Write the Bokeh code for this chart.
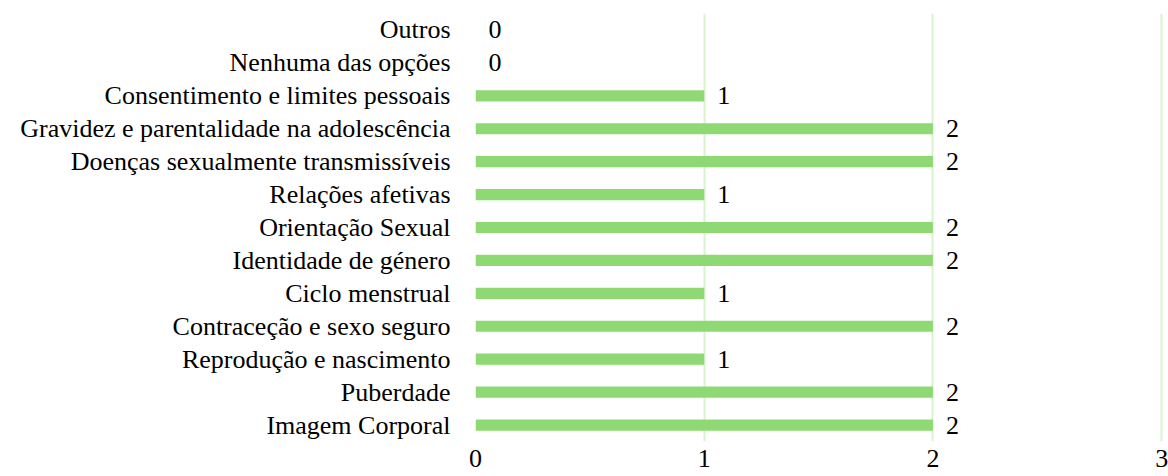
from bokeh.plotting import figure
from bokeh.models import Range1d, FactorRange, FixedTicker, ColumnDataSource
from bokeh.core.properties import value
from bokeh.embed import file_html
from bokeh.resources import INLINE

categories = [
    "Imagem Corporal",
    "Puberdade",
    "Reprodução e nascimento",
    "Contraceção e sexo seguro",
    "Ciclo menstrual",
    "Identidade de género",
    "Orientação Sexual",
    "Relações afetivas",
    "Doenças sexualmente transmissíveis",
    "Gravidez e parentalidade na adolescência",
    "Consentimento e limites pessoais",
    "Nenhuma das opções",
    "Outros",
]
counts = [2, 2, 1, 2, 1, 2, 2, 1, 2, 2, 1, 0, 0]
x_ticks = [0, 1, 2, 3]

FONT = "Liberation Serif"
FS = "26px"
BAR = "#8ed973"
GRID = "#d9f2d0"

src = ColumnDataSource(dict(cat=categories, val=counts, lbl=[str(v) for v in counts]))

p = figure(
    width=1168, height=476,
    y_range=FactorRange(*categories, range_padding=0),
    x_range=Range1d(0, 3.03),
    output_backend="svg", toolbar_location=None,
    min_border_left=475, min_border_right=0, min_border_top=13, min_border_bottom=35,
)
p.outline_line_color = None
p.background_fill_color = "white"

p.hbar(y="cat", right="val", left=0, height=0.34, fill_color=BAR, line_color=None, source=src)
p.text(x="val", y="cat", text="lbl", source=src, x_offset=13,
       text_baseline="middle", text_align="left",
       text_font=value(FONT), text_font_size=FS, text_color="#000000")

p.xaxis.ticker = FixedTicker(ticks=x_ticks)
p.xaxis.axis_line_color = None
p.xaxis.major_tick_line_color = None
p.xaxis.minor_tick_line_color = None
p.xaxis.major_tick_out = 0
p.xaxis.major_tick_in = 0
p.xaxis.major_label_standoff = 8
p.xaxis.major_label_text_font = FONT
p.xaxis.major_label_text_font_size = FS
p.xaxis.major_label_text_color = "#000000"

p.yaxis.axis_line_color = None
p.yaxis.major_tick_line_color = None
p.yaxis.minor_tick_line_color = None
p.yaxis.major_tick_out = 0
p.yaxis.major_tick_in = 0
p.yaxis.major_label_standoff = 25
p.yaxis.major_label_text_font = FONT
p.yaxis.major_label_text_font_size = FS
p.yaxis.major_label_text_color = "#000000"

p.ygrid.grid_line_color = None
p.xgrid.ticker = FixedTicker(ticks=x_ticks)
p.xgrid.grid_line_color = GRID
p.xgrid.grid_line_width = 2

open("out.html", "w").write(file_html(p, INLINE))
